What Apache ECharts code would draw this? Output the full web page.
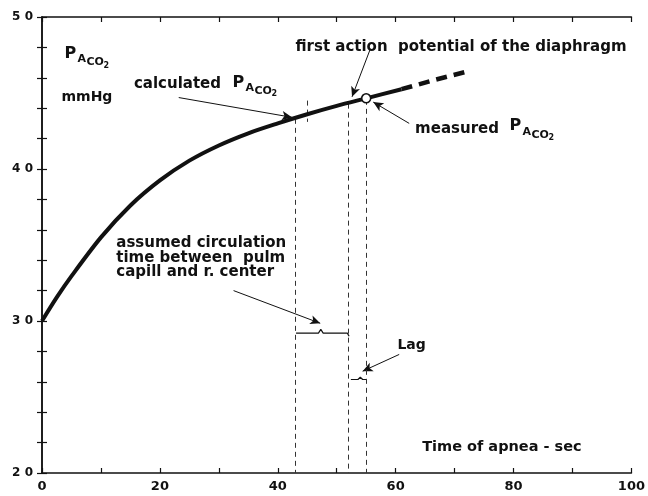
<!DOCTYPE html>
<html><head><meta charset="utf-8">
<script src="https://cdn.jsdelivr.net/npm/echarts@6/dist/echarts.min.js"></script>
<style>html,body{margin:0;padding:0;background:#fff}#c{width:648px;height:496px}</style>
</head><body><div id="c"></div>
<script>
// ---- data ----
const curveX = [0, 2.5, 5, 10, 15, 20, 25, 30, 35, 40, 45, 50, 55, 61];
const curveY = [30.0, 31.55, 32.95, 35.5, 37.6, 39.25, 40.55, 41.55, 42.35, 43.0, 43.6, 44.15, 44.65, 45.25];
const extX = [61, 66.5, 72];
const extY = [45.25, 45.85, 46.4];
const measuredX = [55];
const measuredY = [44.65];
const markerTimes = [43, 52, 55];
const markerTops = [43.3, 44.3, 44.55];
const circBracketX = [43.1, 46.9, 47.3, 47.7, 51.8, 52.1];
const circBracketY = [29.2, 29.2, 29.45, 29.2, 29.2, 29.0];
const lagBracketX = [52.4, 53.6, 54.0, 54.4, 55.0];
const lagBracketY = [26.15, 26.15, 26.3, 26.15, 26.15];
const xTickLabels = {0: '0', 20: '20', 40: '40', 60: '60', 80: '80', 100: '100'};
const yTickLabels = {20: '2 0', 30: '3 0', 40: '4 0', 50: '5 0'};
// arrows: [fromX, fromY, toX, toY]
const arrows = [
  [23.2, 44.7, 42.4, 43.4],
  [55.7, 47.9, 52.6, 44.75],
  [62.3, 43.0, 56.2, 44.4],
  [32.5, 32.0, 47.2, 29.85],
  [60.6, 27.8, 54.4, 26.7]
];

const zip = (a, b) => a.map((v, i) => [v, b[i]]);
const chart = echarts.init(document.getElementById('c'));
const INK = '#111';
const FONT = 'DejaVu Sans';

const axisCommon = {
  axisLine: {show: true, lineStyle: {color: INK, width: 1.5}},
  axisTick: {show: true, inside: true, length: 5, lineStyle: {color: INK, width: 1.2}},
  splitLine: {show: false}
};

const option = {
  backgroundColor: '#fff',
  animation: false,
  grid: {left: 42, right: 13, top: 17, bottom: 23, containLabel: false},
  xAxis: [
    Object.assign({type: 'value', min: 0, max: 100, interval: 10, position: 'bottom',
      axisLabel: {show: true, margin: 7, color: INK, fontFamily: FONT, fontWeight: 'bold', fontSize: 13,
        formatter: v => xTickLabels[v] || ''}}, axisCommon),
    Object.assign({type: 'value', min: 0, max: 100, interval: 10, position: 'top',
      axisLabel: {show: false}}, axisCommon)
  ],
  yAxis: [
    Object.assign({type: 'value', min: 20, max: 50, interval: 2, position: 'left',
      axisLabel: {show: true, margin: 9, color: INK, fontFamily: FONT, fontWeight: 'bold', fontSize: 12,
        formatter: v => yTickLabels[v] || ''}}, axisCommon),
    Object.assign({type: 'value', min: 20, max: 50, interval: 2, position: 'right',
      axisLabel: {show: false}}, axisCommon)
  ],
  series: [
    {type: 'line', data: zip(curveX, curveY), smooth: 0.3, showSymbol: false,
      lineStyle: {color: INK, width: 4}, z: 5,
      markLine: {silent: true, symbol: ['none', 'arrow'], symbolSize: [7, 10], label: {show: false},
        lineStyle: {color: INK, width: 1, type: 'solid'},
        data: arrows.map(a => [{coord: [a[0], a[1]]}, {coord: [a[2], a[3]]}])}},
    {type: 'line', data: zip(extX, extY), showSymbol: false,
      lineStyle: {color: INK, width: 4.5, type: [11, 7]}, z: 5},
    {type: 'line', data: zip(circBracketX, circBracketY), showSymbol: false,
      lineStyle: {color: INK, width: 1.2}, z: 4},
    {type: 'line', data: zip(lagBracketX, lagBracketY), showSymbol: false,
      lineStyle: {color: INK, width: 1.2}, z: 4},
    {type: 'line', data: [], showSymbol: false,
      markLine: {silent: true, symbol: ['none', 'none'], label: {show: false},
        lineStyle: {color: '#333', width: 1, type: [5, 4]},
        data: markerTimes.map((t, i) => [{coord: [t, markerTops[i]]}, {coord: [t, 20]}])
          .concat([[{coord: [45, 44.5]}, {coord: [45, 43.1]}]])}},
    {type: 'scatter', data: zip(measuredX, measuredY), symbol: 'circle', symbolSize: 9,
      itemStyle: {color: '#fff', borderColor: INK, borderWidth: 1.6, opacity: 1}, z: 10}
  ]
};
chart.setOption(option);

// ---- text annotations anchored at data coordinates ----
function px(x, y) { return chart.convertToPixel({xAxisIndex: 0, yAxisIndex: 0}, [x, y]); }
const txt = (x, y, text, size) => {
  const p = px(x, y);
  return {type: 'text', x: p[0], y: p[1],
    style: {text: text, fill: INK, font: 'bold ' + size + 'px "' + FONT + '"', textVerticalAlign: 'middle'}};
};
const pSub = (x, y) => {
  const p = px(x, y);
  const t = (dx, dy, s, size) => ({type: 'text', x: p[0] + dx, y: p[1] + dy,
    style: {text: s, fill: INK, font: 'bold ' + size + 'px "' + FONT + '"', textVerticalAlign: 'middle'}});
  return [t(0, 0, 'P', 16), t(13, 6, 'A', 11), t(22, 9, 'CO', 11), t(39, 12, '2', 8)];
};
const graphics = [].concat(
  pSub(3.8, 47.6),
  [txt(3.3, 44.7, 'mmHg', 14)],
  [txt(15.6, 45.6, 'calculated', 15)],
  pSub(32.3, 45.7),
  [txt(43.0, 48.0, 'first action  potential of the diaphragm', 15)],
  [txt(63.3, 42.6, 'measured', 15)],
  pSub(79.3, 42.85),
  [txt(12.6, 35.1, 'assumed circulation', 15)],
  [txt(12.6, 34.15, 'time between  pulm', 15)],
  [txt(12.6, 33.2, 'capill and r. center', 15)],
  [txt(60.3, 28.4, 'Lag', 14)],
  [txt(64.5, 21.7, 'Time of apnea - sec', 14.5)]
);
chart.setOption({graphic: graphics});
</script></body></html>
